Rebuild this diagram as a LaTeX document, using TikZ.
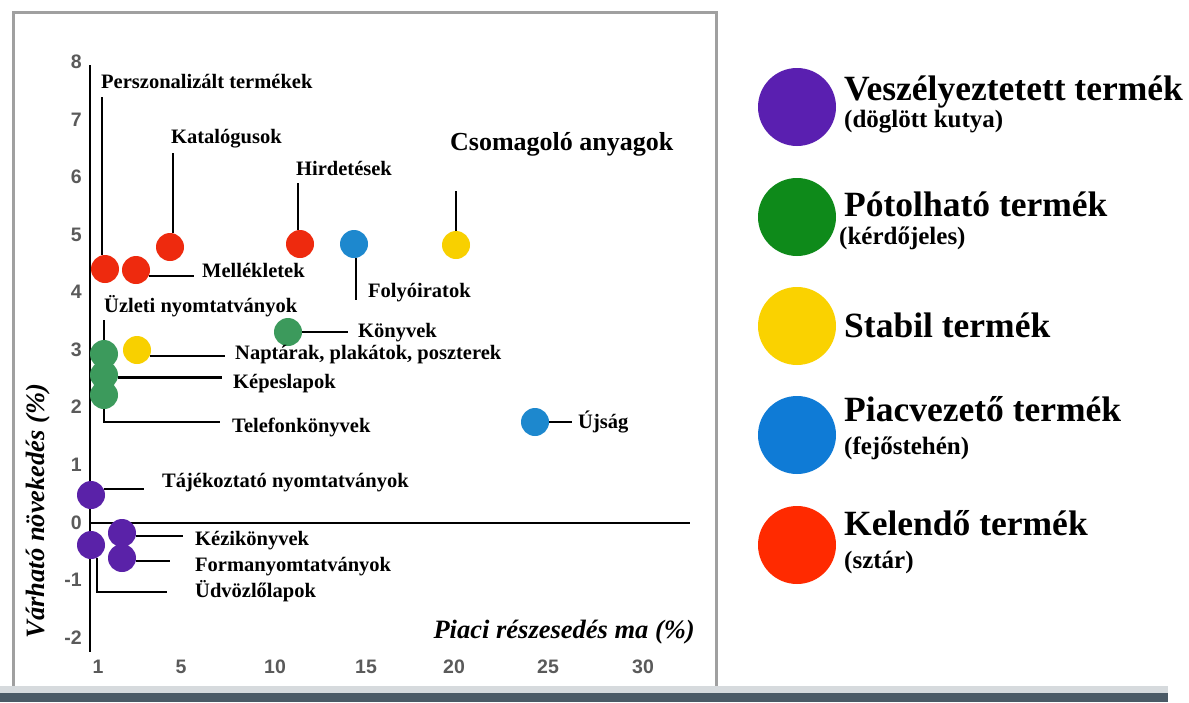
\documentclass[tikz,border=0pt]{standalone}
\usepackage{fontspec}
\setmainfont{Liberation Serif}
\newfontfamily\ticksans{Liberation Sans}
\definecolor{cpurple}{HTML}{5A22A8}
\definecolor{cgreen}{HTML}{3C9A5C}
\definecolor{cyellow}{HTML}{F8D000}
\definecolor{cblue}{HTML}{1D88CE}
\definecolor{cred}{HTML}{EE2A0E}
\definecolor{kpurple}{HTML}{5A1FB0}
\definecolor{kgreen}{HTML}{0E8A1A}
\definecolor{kyellow}{HTML}{FAD200}
\definecolor{kblue}{HTML}{0F7BD6}
\definecolor{kred}{HTML}{FF2A00}
\definecolor{tickgray}{HTML}{5A5A5A}
\definecolor{framegray}{HTML}{A0A0A0}
\definecolor{barslate}{HTML}{4B5A66}
\definecolor{barlight}{HTML}{D6DADD}
\begin{document}
\begin{tikzpicture}[x=1pt,y=-1pt,
  dot/.style={circle,inner sep=0pt,minimum size=28pt},
  key/.style={circle,inner sep=0pt,minimum size=78pt},
  lbl/.style={anchor=base west,inner sep=0pt,font=\fontsize{20.5}{24}\selectfont\bfseries},
  keyt/.style={anchor=base west,inner sep=0pt,font=\fontsize{35.5}{40}\selectfont\bfseries},
  keys/.style={anchor=base west,inner sep=0pt,font=\fontsize{25}{28}\selectfont\bfseries},
  tick/.style={inner sep=0pt,text=tickgray,font=\fontsize{19.5}{22}\selectfont\ticksans\bfseries},
  axtitle/.style={inner sep=0pt,font=\fontsize{26.5}{30}\selectfont\bfseries\itshape},
  lead/.style={line width=2.4pt},
  axis/.style={line width=2.4pt}]
\useasboundingbox (0,0) rectangle (1189,702);
\fill[white] (0,0) rectangle (1189,702);

% frame and bottom bar
\draw[framegray,line width=3pt] (13,695) -- (13,12) -- (716,12) -- (716,695);
\fill[barlight] (0,686) rectangle (1168,693);
\fill[barslate] (0,693) rectangle (1168,702);

% axes
\coordinate (ytop) at (90,65);
\coordinate (ybot) at (90,652);
\coordinate (xl) at (90,523);
\coordinate (xr) at (690,523);
\draw[axis] (ytop) -- (ybot);
\draw[axis] (xl) -- (xr);

% tick labels
\foreach \v/\y in {8/62,7/120,6/177,5/235,4/292,3/350,2/407,1/465,0/523,-1/580,-2/638}
  \node[tick,anchor=east] (ty\v) at (82,\y) {\v};
\foreach \v/\x in {1/98,5/181,10/275,15/366,20/454,25/548,30/643}
  \node[tick] (tx\v) at (\x,667) {\v};

% axis titles
\node[axtitle,anchor=base east] (xtitle) at (695,638) {Piaci részesedés ma (\%)};
\node[axtitle,rotate=90,anchor=base] (ytitle) at (44,511) {Várható növekedés (\%)};

% leader line ends
\coordinate (e-pers) at (102,97);
\coordinate (e-kat) at (173,153);
\coordinate (e-hir) at (298,183);
\coordinate (e-csom) at (456,191);
\coordinate (e-foly) at (356,300);
\coordinate (e-mell) at (194,276);
\coordinate (e-uzl) at (104,320);
\coordinate (e-konyv) at (348,333);
\coordinate (e-napt) at (225,356);
\coordinate (e-kep) at (222,378);
\coordinate (e-tel) at (220,422);
\coordinate (e-taj) at (144,489);
\coordinate (e-kezi) at (183,536);
\coordinate (e-form) at (170,561);
\coordinate (e-udv) at (167,592);
\coordinate (e-ujs) at (572,422);

% product dots
\node[dot,fill=cred] (d1) at (105,269) {};
\node[dot,fill=cred] (d2) at (136,270) {};
\node[dot,fill=cred] (d3) at (170,247) {};
\node[dot,fill=cred] (d4) at (300,244) {};
\node[dot,fill=cblue] (b1) at (354,244) {};
\node[dot,fill=cyellow] (y1) at (456,245) {};
\node[dot,fill=cgreen] (g4) at (288,332) {};
\node[dot,fill=cgreen] (g3) at (104,395) {};
\node[dot,fill=cgreen] (g2) at (104,375) {};
\node[dot,fill=cgreen] (g1) at (104,354) {};
\node[dot,fill=cyellow] (y2) at (137,350) {};
\node[dot,fill=cblue] (b2) at (535,422) {};
\node[dot,fill=cpurple] (p1) at (91,495) {};
\node[dot,fill=cpurple] (p4) at (91,545) {};
\node[dot,fill=cpurple] (p3) at (122,558) {};
\node[dot,fill=cpurple] (p2) at (122,533) {};

% leader lines
\draw[lead] (d1.102) -- (d1.102 |- e-pers);
\draw[lead] (d3.78) -- (d3.78 |- e-kat);
\draw[lead] (d4.98) -- (d4.98 |- e-hir);
\draw[lead] (y1.north) -- (y1.north |- e-csom);
\draw[lead] (b1.-82) -- (b1.-82 |- e-foly);
\draw[lead] (d2.-25) -- (d2.-25 -| e-mell);
\draw[lead] (g1.north) -- (g1.north |- e-uzl);
\draw[lead] (g4.east) -- (g4.east -| e-konyv);
\draw[lead] (y2.-25) -- (y2.-25 -| e-napt);
\draw[lead] (g2.-10) -- (g2.-10 -| e-kep);
\draw[lead] (g3.south) |- (e-tel);
\draw[lead] (p1.25) -- (p1.25 -| e-taj);
\draw[lead] (p2.-12) -- (p2.-12 -| e-kezi);
\draw[lead] (p3.-12) -- (p3.-12 -| e-form);
\draw[lead] (p4.-65) |- (e-udv);
\draw[lead] (b2.east) -- (e-ujs);

% product labels
\node[lbl] (l-pers) at (101,88) {Perszonalizált termékek};
\node[lbl] (l-kat) at (171,143) {Katalógusok};
\node[lbl] (l-hir) at (296,175) {Hirdetések};
\node[lbl,font=\fontsize{26}{30}\selectfont\bfseries] (l-csom) at (450,150) {Csomagoló anyagok};
\node[lbl] (l-mell) at (202,277) {Mellékletek};
\node[lbl] (l-foly) at (368,297) {Folyóiratok};
\node[lbl] (l-uzl) at (104,312) {Üzleti nyomtatványok};
\node[lbl] (l-konyv) at (358,337) {Könyvek};
\node[lbl] (l-napt) at (235,359) {Naptárak, plakátok, poszterek};
\node[lbl] (l-kep) at (233,388) {Képeslapok};
\node[lbl] (l-tel) at (232,432) {Telefonkönyvek};
\node[lbl] (l-taj) at (162,487) {Tájékoztató nyomtatványok};
\node[lbl] (l-kezi) at (195,545) {Kézikönyvek};
\node[lbl] (l-form) at (195,571) {Formanyomtatványok};
\node[lbl] (l-udv) at (195,597) {Üdvözlőlapok};
\node[lbl] (l-ujs) at (578,428) {Újság};

% legend
\node[key,fill=kpurple] (k1) at (797,107) {};
\node[keyt] (k1t) at (844,100) {Veszélyeztetett termék};
\node[keys] (k1s) at (844,127) {(döglött kutya)};
\node[key,fill=kgreen] (k2) at (797,217) {};
\node[keyt] (k2t) at (844,216) {Pótolható termék};
\node[keys] (k2s) at (839,244) {(kérdőjeles)};
\node[key,fill=kyellow] (k3) at (797,326) {};
\node[keyt] (k3t) at (844,337) {Stabil termék};
\node[key,fill=kblue] (k4) at (797,435) {};
\node[keyt] (k4t) at (844,421) {Piacvezető termék};
\node[keys] (k4s) at (844,454) {(fejőstehén)};
\node[key,fill=kred] (k5) at (797,545) {};
\node[keyt] (k5t) at (844,535) {Kelendő termék};
\node[keys] (k5s) at (844,568) {(sztár)};
\end{tikzpicture}
\end{document}
